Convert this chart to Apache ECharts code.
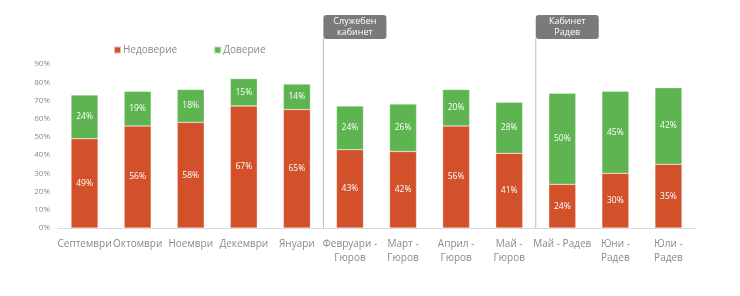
<!DOCTYPE html>
<html>
<head>
<meta charset="utf-8">
<script src="https://cdn.jsdelivr.net/npm/echarts@6/dist/echarts.min.js"></script>
<style>
  html, body { margin: 0; padding: 0; background: #fff; }
  #div_chart { width: 740px; height: 296px; }
</style>
</head>
<body>
<div id="div_chart"></div>
<script>
"use strict";

// data
const categories = ["Септември", "Октомври", "Ноември", "Декември", "Януари",
  "Февруари -\nГюров", "Март -\nГюров", "Април -\nГюров", "Май -\nГюров",
  "Май - Радев", "Юни -\nРадев", "Юли -\nРадев"];
const distrust = [49, 56, 58, 67, 65, 43, 42, 56, 41, 24, 30, 35];
const trust = [24, 19, 18, 15, 14, 24, 26, 20, 28, 50, 45, 42];
// annotation boxes: text and the index of the bar right after the divider
const periods = [
  { text: "Служебен\nкабинет", after: 4 },
  { text: "Кабинет\nРадев", after: 8 },
];

const font = "'Open Sans', sans-serif";
const c_grey = "#8a8a8a";

const html_div_chart = document.getElementById("div_chart");
const chart = echarts.init(html_div_chart);

function bar_series(name, data, color) {
  return {
    type: "bar",
    name: name,
    stack: "total",
    data: data,
    barWidth: 27,
    itemStyle: { color: color, borderColor: "rgba(255,255,255,0.6)", borderWidth: 0.5 },
    label: {
      show: true,
      position: "inside",
      color: "#fff",
      fontSize: 8.5,
      fontFamily: font,
      formatter: "{c}%",
    },
  };
}

chart.setOption({
  animation: false,
  textStyle: { fontFamily: font },
  legend: {
    left: 108,
    top: 40,
    itemWidth: 7,
    itemHeight: 7,
    itemGap: 36,
    icon: "rect",
    textStyle: { color: c_grey, fontSize: 10, fontFamily: font, padding: [0, 0, 0, -3] },
    data: ["Недоверие", "Доверие"],
  },
  grid: { left: 58, right: 45, top: 64, bottom: 68 },
  xAxis: {
    type: "category",
    data: categories,
    axisTick: { show: false },
    axisLine: { lineStyle: { color: "#d9d9d9" } },
    axisLabel: { color: c_grey, fontSize: 10, fontFamily: font, lineHeight: 14, margin: 9, interval: 0 },
  },
  yAxis: {
    type: "value",
    min: 0,
    max: 90,
    interval: 10,
    splitLine: { show: false },
    axisLabel: { color: c_grey, fontSize: 8, fontFamily: font, formatter: "{value}%", margin: 8 },
  },
  series: [
    bar_series("Недоверие", distrust, "#D2512A"),
    bar_series("Доверие", trust, "#5DB450"),
  ],
});

// dividers and their boxes, placed from the axis scale
function draw_periods() {
  const y_axis = chart.convertToPixel({ yAxisIndex: 0 }, 0);
  const elements = [];
  for (const p of periods) {
    const x = (chart.convertToPixel({ xAxisIndex: 0 }, p.after) +
      chart.convertToPixel({ xAxisIndex: 0 }, p.after + 1)) / 2;
    elements.push({
      type: "line",
      shape: { x1: x, y1: 38, x2: x, y2: y_axis },
      style: { stroke: "#bfbfbf", lineWidth: 1 },
    });
    elements.push({
      type: "rect",
      shape: { x: x, y: 15, width: 63, height: 24, r: 3 },
      style: { fill: "#7a7a7a" },
    });
    elements.push({
      type: "text",
      x: x + 31.5,
      y: 27,
      style: {
        text: p.text,
        fill: "#fff",
        fontSize: 9,
        fontFamily: font,
        align: "center",
        verticalAlign: "middle",
        lineHeight: 11,
      },
    });
  }
  chart.setOption({ graphic: elements });
}
draw_periods();
</script>
</body>
</html>
